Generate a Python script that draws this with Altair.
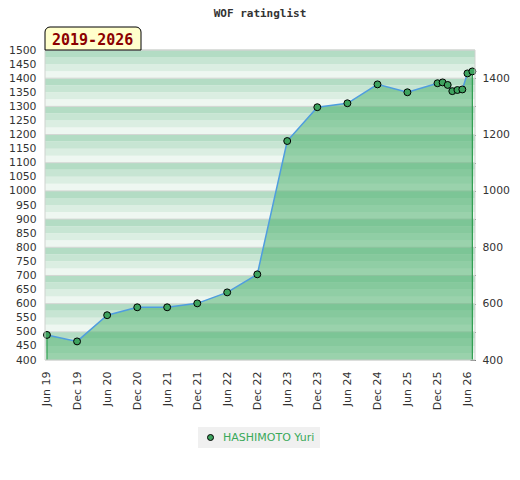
import altair as alt
import pandas as pd

# ---- data ----
dates = ["2019-06-01", "2019-12-01", "2020-06-01", "2020-12-01", "2021-06-01",
         "2021-12-01", "2022-06-01", "2022-12-01", "2023-06-01", "2023-12-01",
         "2024-06-01", "2024-12-01", "2025-06-01", "2025-12-01", "2026-01-01",
         "2026-02-01", "2026-03-01", "2026-04-01", "2026-05-01", "2026-06-01",
         "2026-07-01"]
ratings = [489, 466, 559, 587, 587, 601, 640, 704, 1177, 1297, 1311, 1378, 1350,
           1382, 1385, 1376, 1354, 1358, 1360, 1417, 1424]
player = "HASHIMOTO Yuri"
chart_title = "WOF ratinglist"

x_tick_dates = ["2019-06-01", "2019-12-01", "2020-06-01", "2020-12-01", "2021-06-01",
                "2021-12-01", "2022-06-01", "2022-12-01", "2023-06-01", "2023-12-01",
                "2024-06-01", "2024-12-01", "2025-06-01", "2025-12-01", "2026-06-01"]
left_ticks = [400, 450, 500, 550, 600, 650, 700, 750, 800, 850, 900, 950, 1000,
              1050, 1100, 1150, 1200, 1250, 1300, 1350, 1400, 1450, 1500]
right_ticks = [400, 500, 600, 700, 800, 900, 1000, 1100, 1200, 1300, 1400]
grid_values = [400, 500, 600, 700, 800, 900, 1000, 1100, 1200, 1300, 1400, 1500]
y_domain = [400, 1500]
x_domain = ["2019-05-20", "2026-07-17"]

W, H = 430, 310
FONT = "DejaVu Sans"


def dt(s):
    y, m, d = map(int, s.split("-"))
    return alt.DateTime(year=y, month=m, date=d, utc=True)


df = pd.DataFrame({"date": dates, "rating": ratings, "player": player})
ends = df.iloc[[0, len(df) - 1]]

shades = ["#eef7f1", "#dbeee2", "#c7e5d3", "#b3dcc4"]
stripe_lo = list(range(y_domain[0], y_domain[1], 25))
stripes = pd.DataFrame({
    "lo": stripe_lo,
    "hi": [v + 25 for v in stripe_lo],
    "c": [shades[(v % 100) // 25] for v in stripe_lo],
})
grid_df = pd.DataFrame({"v": grid_values})
badge_df = pd.DataFrame({"label": [f"{dates[0][:4]}-{dates[-1][:4]}"],
                         "title": [chart_title]})

y_scale = alt.Scale(domain=y_domain, nice=False, zero=False)
x_enc = alt.X(
    "date:T",
    scale=alt.Scale(type="utc", domain=[dt(s) for s in x_domain]),
    axis=alt.Axis(values=[dt(s) for s in x_tick_dates], format="%b %y",
                  labelAngle=270, ticks=False, domain=False, grid=False,
                  labelPadding=11, labelFont=FONT, labelFontSize=11,
                  labelColor="#333333", title=None, labelFlush=False,
                  labelOverlap=False),
)

left_axis = alt.Axis(values=left_ticks, orient="left", ticks=False, domain=False,
                     grid=False, labelPadding=9, labelFont=FONT, labelFontSize=10.8,
                     labelColor="#333333", title=None, labelFlush=False,
                     labelOverlap=False, format="d")
right_axis = alt.Axis(values=right_ticks, orient="right", ticks=True, tickSize=5,
                      tickColor="black", domain=False, grid=False, offset=-5,
                      labelPadding=7, labelFont=FONT, labelFontSize=10.8,
                      labelColor="#333333", title=None, labelFlush=False,
                      labelOverlap=False, format="d",
                      labelExpr="datum.value % 200 == 0 ? datum.label : ''")

stripe_layer = alt.Chart(stripes).mark_rect().encode(
    x=alt.value(0), x2=alt.value(W),
    y=alt.Y("lo:Q", scale=y_scale, axis=None), y2="hi:Q",
    fill=alt.Fill("c:N", scale=None),
)

grid_layer = alt.Chart(grid_df).mark_rule(color="#d3d6d3", strokeWidth=1).encode(
    y=alt.Y("v:Q", scale=y_scale, axis=right_axis),
)

area_layer = alt.Chart(df).mark_area(color="#45ae68", opacity=0.5).encode(
    x=x_enc,
    y=alt.Y("rating:Q", scale=y_scale, axis=left_axis),
    y2=alt.datum(y_domain[0]),
)

line_layer = alt.Chart(df).mark_line(color="#4f9ddf", strokeWidth=1.5).encode(
    x=x_enc,
    y=alt.Y("rating:Q", scale=y_scale, axis=None),
)

edge_layer = alt.Chart(ends).mark_rule(color="#2f9e50", strokeWidth=1.2).encode(
    x=x_enc,
    y=alt.Y("rating:Q", scale=y_scale, axis=None),
    y2=alt.datum(y_domain[0]),
)

point_layer = alt.Chart(df).mark_circle(size=48, stroke="black", strokeWidth=1,
                                         opacity=1).encode(
    x=x_enc,
    y=alt.Y("rating:Q", scale=y_scale, axis=None),
    color=alt.Color("player:N", scale=alt.Scale(domain=[player], range=["#3ea35f"]),
                    legend=alt.Legend(title=None, orient="none", legendX=153,
                                      legendY=377, fillColor="#f0f0f0", padding=5,
                                      labelColor="#3aa95a", labelFont=FONT,
                                      labelFontSize=11, symbolType="circle",
                                      symbolSize=36, symbolStrokeColor="black",
                                      symbolStrokeWidth=1, labelOffset=7,
                                      symbolOffset=2)),
)

border_layer = alt.Chart(badge_df).mark_rect(fillOpacity=0, stroke="#cfd2cf",
                                              strokeWidth=1).encode(
    x=alt.value(0), x2=alt.value(W), y=alt.value(0), y2=alt.value(H),
)

badge_rect = alt.Chart(badge_df).mark_rect(fill="#ffffcc", stroke="black",
                                            strokeWidth=1, cornerRadiusTopLeft=5,
                                            cornerRadiusTopRight=5).encode(
    x=alt.value(0), x2=alt.value(96), y=alt.value(-23), y2=alt.value(0),
)
badge_text = alt.Chart(badge_df).mark_text(align="left", baseline="alphabetic",
                                            font="DejaVu Sans Mono", fontSize=15,
                                            fontWeight="bold",
                                            color="#8b0000").encode(
    x=alt.value(7), y=alt.value(-5), text="label:N",
)
title_text = alt.Chart(badge_df).mark_text(align="center", baseline="alphabetic",
                                            font="DejaVu Sans Mono", fontSize=11,
                                            fontWeight="bold",
                                            color="#333333").encode(
    x=alt.value(W / 2), y=alt.value(-33), text="title:N",
)

chart = alt.layer(
    stripe_layer, grid_layer, area_layer, line_layer, edge_layer, point_layer,
    border_layer, badge_rect, badge_text, title_text,
).resolve_axis(y="independent").properties(
    width=W, height=H,
    autosize=alt.AutoSizeParams(type="none"),
    padding={"left": 37, "top": 42, "right": 37, "bottom": 110},
).configure_view(stroke=None)

chart.save("out.html", embed_options={"renderer": "svg", "actions": False})
